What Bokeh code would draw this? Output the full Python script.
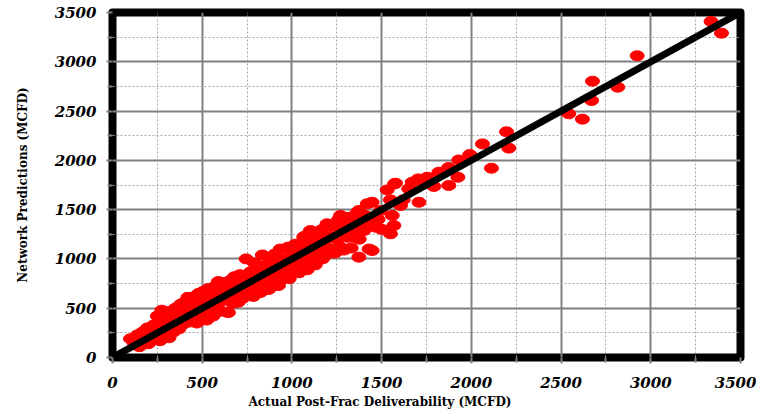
from bokeh.plotting import figure
from bokeh.models import Range1d, FixedTicker, ColumnDataSource, Slope, Title
from bokeh.embed import file_html
from bokeh.resources import INLINE

# Actual post-frac deliverability (MCFD) and network predictions (MCFD)
actual = [
    100, 120, 140, 150, 170, 180, 195, 200, 215, 230, 235, 250, 255, 265, 275, 280, 290, 300,
    305, 315, 325, 330, 340, 350, 355, 365, 370, 380, 385, 395, 400, 410, 420, 425, 430,
    440, 450, 460, 465, 470, 480, 490, 495, 505, 510, 520, 525, 535, 540, 550, 560, 570, 575,
    585, 590, 600, 605, 615, 625, 630, 640, 645, 655, 660, 670, 680, 685, 695, 700, 710, 715,
    725, 735, 745, 750, 760, 770, 775, 785, 790, 800, 810, 815, 825, 835, 840, 850, 860, 870,
    880, 885, 895, 905, 910, 920, 925, 935, 945, 950, 960, 970, 980, 985, 995, 1000, 1010,
    1020, 1030, 1040, 1050, 1060, 1070, 1080, 1085, 1095, 1105, 1115, 1120, 1130, 1140, 1150,
    1160, 1170, 1180, 1190, 1200, 1210, 1220, 1230, 1240, 1250, 1260, 1270, 1280, 1290, 1300,
    1310, 1320, 1330, 1340, 1350, 1365, 1375, 1385, 1400, 1410, 1420, 1430, 1447,
    1373, 1447, 1549, 1568, 1559, 1494, 1605, 1549, 1531, 1572, 1651, 1670, 1661, 1704, 1708,
    1717, 1754, 1791, 1819, 1873, 1874, 1925, 1930, 1991, 2062, 2112, 2196, 2209, 2543, 2619,
    2670, 2675, 2816, 2924, 3336, 3394, 1466, 1401, 1419, 1336, 1159, 1066, 1103, 1196, 1271,
    1326, 1373, 646, 1577, 1620, 1480, 1500,
]
predicted = [
    190, 150, 230, 110, 260, 180, 300, 140, 250, 330, 200, 420, 280, 170, 480, 360, 240, 440,
    300, 200, 470, 380, 260, 500, 330, 420, 290, 540, 450, 340, 560, 400, 610, 480, 360,
    560, 420, 620, 500, 350, 650, 530, 420, 670, 580, 460, 380, 700, 600, 500, 420, 720, 640,
    540, 770, 660, 470, 580, 760, 690, 460, 600, 780, 700, 550, 820, 640, 740, 560, 840, 690,
    600, 800, 1000, 720, 640, 870, 780, 620, 960, 700, 880, 780, 660, 1040, 930, 740, 850, 690,
    1000, 900, 760, 1050, 840, 960, 730, 1100, 900, 800, 1000, 870, 1120, 800, 950, 1060, 880,
    1150, 990, 860, 1100, 950, 1230, 1030, 890, 1150, 980, 1270, 1060, 940, 1200, 1080,
    1290, 1000, 1150, 1330, 1050, 1230, 1100, 1330, 1060, 1200, 1400, 1120, 1300, 1090, 1420,
    1220, 1360, 1110, 1420, 1290, 1470, 1200, 1350, 1300, 1440, 1560, 1100, 1575,
    1018, 1085, 1255, 1339, 1441, 1491, 1542, 1599, 1700, 1761, 1711, 1778, 1700, 1812, 1575,
    1796, 1829, 1735, 1880, 1927, 1745, 1829, 2004, 2059, 2167, 1920, 2290, 2124, 2472, 2418,
    2607, 2803, 2742, 3061, 3409, 3290, 1322, 1288, 1373, 1221, 1255, 1221, 1288, 1356, 1441,
    1424, 1491, 456, 1768, 1600, 1400, 1300,
]

major_ticks = [0, 500, 1000, 1500, 2000, 2500, 3000, 3500]
minor_ticks = [250, 750, 1250, 1750, 2250, 2750, 3250]

source = ColumnDataSource(data=dict(actual=actual, predicted=predicted))

p = figure(width=756, height=416, x_range=Range1d(0, 3500), y_range=Range1d(0, 3500),
           output_backend="svg", toolbar_location=None,
           min_border_left=112, min_border_right=16, min_border_top=12, min_border_bottom=59)
p.background_fill_color = "white"
p.border_fill_color = "white"
p.outline_line_color = "black"
p.outline_line_width = 8
p.outline_line_join = "round"

for ax in (p.xaxis, p.yaxis):
    ax.ticker = FixedTicker(ticks=major_ticks, minor_ticks=minor_ticks)
    ax.axis_line_color = None
    ax.major_tick_line_color = "#808080"
    ax.major_tick_line_width = 2
    ax.major_tick_out = 6
    ax.major_tick_in = 0
    ax.minor_tick_line_color = "#808080"
    ax.minor_tick_line_width = 2
    ax.minor_tick_out = 5
    ax.minor_tick_in = 0
    ax.major_label_text_font = "DejaVu Serif"
    ax.major_label_text_font_style = "bold italic"
    ax.major_label_text_font_size = "15px"
    ax.major_label_text_color = "black"
    ax.axis_label_text_font = "DejaVu Serif"
    ax.axis_label_text_font_style = "bold"
    ax.axis_label_text_font_size = "12px"
    ax.axis_label_text_color = "black"

p.yaxis.axis_label = "Network Predictions (MCFD)"
p.xaxis.major_label_standoff = 13
p.yaxis.major_label_standoff = 10
p.yaxis.axis_label_standoff = 22

xlabel = Title(text="Actual Post-Frac Deliverability (MCFD)", align="left", offset=136,
               text_font="DejaVu Serif", text_font_style="bold", text_font_size="12px",
               text_color="black", standoff=5)
p.add_layout(xlabel, "below")

for g in (p.xgrid, p.ygrid):
    g.ticker = FixedTicker(ticks=major_ticks, minor_ticks=minor_ticks)
    g.grid_line_color = "#808080"
    g.grid_line_width = 2
    g.minor_grid_line_color = "#aaaaaa"
    g.minor_grid_line_width = 1
    g.minor_grid_line_dash = "2 2"

p.ellipse(x="actual", y="predicted", width=14, height=10,
          width_units="screen", height_units="screen",
          fill_color="#ff0000", line_color="#ff0000", source=source)

p.add_layout(Slope(gradient=1, y_intercept=0, line_color="black", line_width=7))

open("out.html", "w").write(file_html(p, INLINE))
